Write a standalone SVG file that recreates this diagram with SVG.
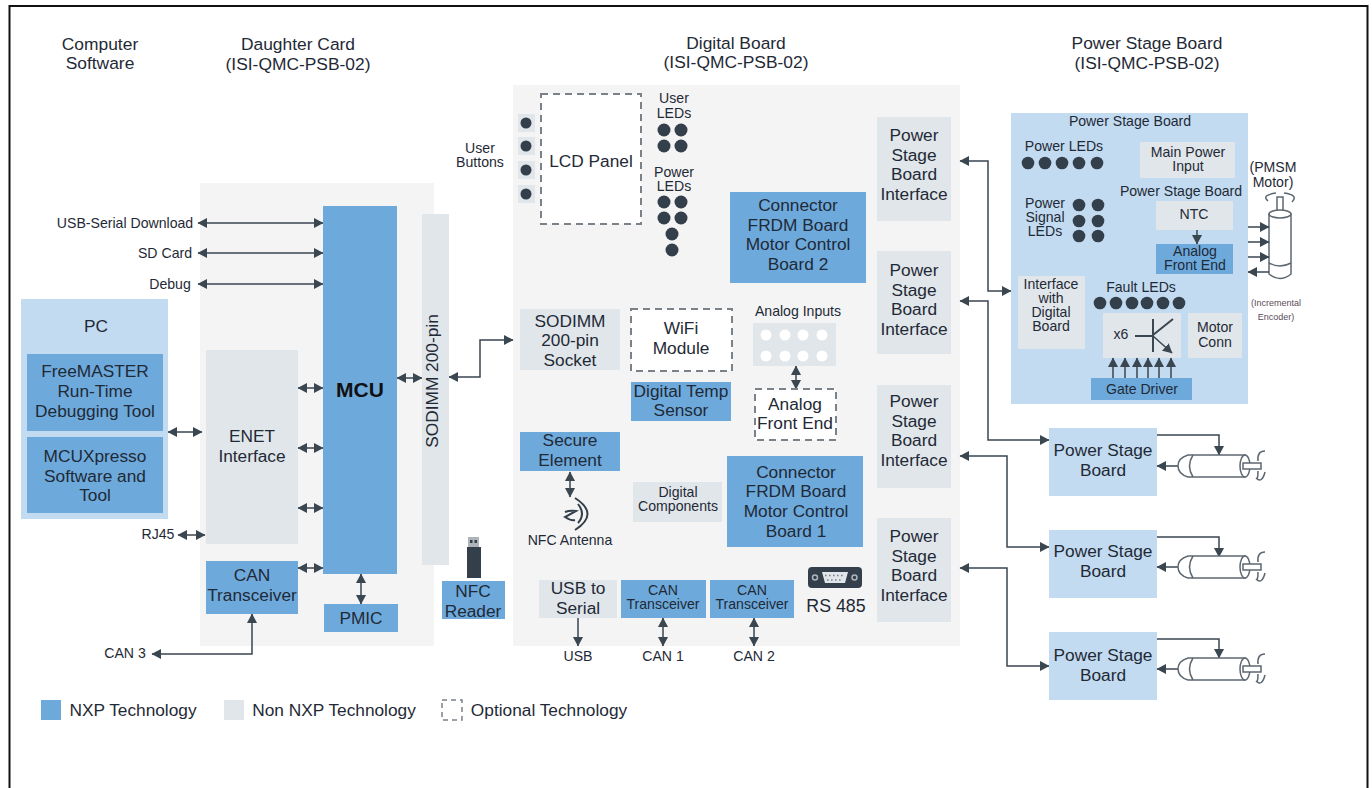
<svg xmlns="http://www.w3.org/2000/svg" width="1372" height="788" viewBox="0 0 1372 788">
<defs>
<marker id="a" markerUnits="userSpaceOnUse" markerWidth="10" markerHeight="10" refX="9" refY="5" orient="auto-start-reverse"><path d="M0 0L9.500 5L0 10Z" fill="#3a4650"/></marker>
<g id="motor">
<path class="m" d="M1188 455Q1178 458 1178 466Q1178 474 1188 477H1245V455Z"/>
<path class="g" d="M1193 455Q1186 466 1193 477"/>
<ellipse class="m" cx="1245" cy="466" rx="5" ry="11"/>
<rect class="m" x="1243" y="463" width="18" height="6"/>
<path class="g" d="M1265 451Q1257 451 1258 461"/>
<path class="g" d="M1258 471Q1258 480 1256 478Q1262 484 1265 472"/>
</g>
</defs>
<style>
text{font-family:"Liberation Sans",Arial,sans-serif;fill:#1f2a36;text-anchor:middle}
.nxp{fill:#6ea9dc}.non{fill:#e1e6ea}.lb{fill:#c3dbf0}.bg{fill:#f4f4f4}
.opt{fill:#fff;stroke:#7a8188;stroke-width:2;stroke-dasharray:7 5}
.c{fill:none;stroke:#3a4650;stroke-width:1.500;marker-end:url(#a)}
.d{fill:none;stroke:#3a4650;stroke-width:1.500;marker-start:url(#a);marker-end:url(#a)}
.l{fill:none;stroke:#3a4650;stroke-width:2}
.g{fill:none;stroke:#5d6770;stroke-width:1.500}
.dot{fill:#333f4a}
.m{fill:#fff;stroke:#5d6770;stroke-width:1.500}
.t16{font-size:17.400px}.t17{font-size:17.300px}.t14{font-size:14.100px}
</style>
<rect id="frame" x="9.500" y="6" width="1358" height="800" fill="#fff" stroke="#111" stroke-width="2"/>

<g id="backgrounds">
<rect class="bg" x="200" y="183" width="234" height="463"/>
<rect class="bg" x="513" y="85" width="447" height="561"/>
</g>

<g id="titles">
<text class="t16" x="100" y="50">Computer</text><text class="t16" x="100" y="69">Software</text>
<text class="t16" x="298" y="50">Daughter Card</text><text class="t16" x="298" y="70">(ISI-QMC-PSB-02)</text>
<text class="t16" x="736" y="49">Digital Board</text><text class="t16" x="736" y="68">(ISI-QMC-PSB-02)</text>
<text class="t16" x="1147" y="49">Power Stage Board</text><text class="t16" x="1147" y="69">(ISI-QMC-PSB-02)</text>
</g>

<g id="connectors">
<path class="d" d="M198 223H323"/>
<path class="d" d="M198 253H323"/>
<path class="d" d="M198 284H323"/>
<path class="d" d="M298 388H323"/>
<path class="d" d="M298 448H323"/>
<path class="d" d="M298 508H323"/>
<path class="d" d="M298 568H323"/>
<path class="d" d="M397 378H422"/>
<path class="d" d="M361 574V604"/>
<path class="d" d="M168 432H202"/>
<path class="d" d="M178 535H205"/>
<path class="d" d="M152 654H252V614"/>
<path class="d" d="M449 377H480V340H513"/>
<path class="d" d="M796 366V389"/>
<path class="d" d="M570 472V497"/>
<path class="c" d="M578 618V646"/>
<path class="d" d="M663 618V646"/>
<path class="d" d="M754 618V646"/>
<path class="d" d="M960 161H988V291H1011"/>
<path class="d" d="M960 301H988V440H1049"/>
<path class="d" d="M960 456H1007V547H1049"/>
<path class="d" d="M960 568H1007V666H1049"/>
</g>

<g id="pc"><rect class="lb" x="21" y="299" width="147" height="220"/><text class="t17" x="96" y="332">PC</text></g>
<g id="freemaster"><rect class="nxp" x="27" y="354" width="136" height="77"/><text class="t17" x="95" y="377">FreeMASTER</text><text class="t17" x="95" y="397">Run-Time</text><text class="t17" x="95" y="417">Debugging Tool</text></g>
<g id="mcuxpresso"><rect class="nxp" x="27" y="437" width="136" height="76"/><text class="t17" x="95" y="462">MCUXpresso</text><text class="t17" x="95" y="482">Software and</text><text class="t17" x="95" y="501">Tool</text></g>

<g id="side-labels">
<text class="t14" x="125" y="228">USB-Serial Download</text>
<text class="t14" x="165" y="258">SD Card</text>
<text class="t14" x="170" y="289">Debug</text>
<text class="t14" x="158" y="539">RJ45</text>
<text class="t14" x="125" y="658">CAN 3</text>
</g>

<g id="enet"><rect class="non" x="206" y="350" width="92" height="194"/><text class="t17" x="252" y="442">ENET</text><text class="t17" x="252" y="462">Interface</text></g>
<g id="mcu"><rect class="nxp" x="323" y="206" width="74" height="368"/><text x="360" y="397" font-size="21" font-weight="700" style="fill:#111">MCU</text></g>
<g id="sodimm-pin"><rect class="non" x="422" y="214" width="27" height="351"/><text class="t17" transform="translate(438 381) rotate(-90)">SODIMM 200-pin</text></g>
<g id="can-t3"><rect class="nxp" x="206" y="561" width="92" height="53"/><text class="t17" x="252" y="581">CAN</text><text class="t17" x="252" y="601">Transceiver</text></g>
<g id="pmic"><rect class="nxp" x="324" y="604" width="74" height="28"/><text class="t17" x="361" y="624">PMIC</text></g>
<g id="nfc-reader">
<rect x="468" y="537" width="11" height="10" fill="#aeb4b9"/><rect x="470" y="540" width="2.500" height="3" fill="#333f4a"/><rect x="474.500" y="540" width="2.500" height="3" fill="#333f4a"/>
<rect x="467" y="547" width="14" height="31" fill="#333f4a"/>
<rect x="442" y="581" width="63" height="38" class="nxp"/><text class="t17" x="473" y="597">NFC</text><text class="t17" x="473" y="617">Reader</text></g>

<g id="user-buttons">
<text class="t14" x="480" y="153">User</text><text class="t14" x="480" y="167">Buttons</text>
<rect class="non" x="518" y="114" width="17" height="18"/><rect class="non" x="518" y="137" width="17" height="18"/><rect class="non" x="518" y="161" width="17" height="18"/><rect class="non" x="518" y="185" width="17" height="18"/>
<circle class="dot" cx="526" cy="123" r="5.500"/><circle class="dot" cx="526" cy="146" r="5.500"/><circle class="dot" cx="526" cy="170" r="5.500"/><circle class="dot" cx="526" cy="194" r="5.500"/>
</g>
<g id="lcd"><rect class="opt" x="541" y="94" width="100" height="130"/><text class="t17" x="591" y="167">LCD Panel</text></g>
<g id="user-leds"><text class="t14" x="674" y="103">User</text><text class="t14" x="674" y="118">LEDs</text>
<circle class="dot" cx="664" cy="130" r="6.500"/><circle class="dot" cx="681" cy="130" r="6.500"/><circle class="dot" cx="664" cy="146" r="6.500"/><circle class="dot" cx="681" cy="146" r="6.500"/></g>
<g id="power-leds"><text class="t14" x="674" y="177">Power</text><text class="t14" x="674" y="191">LEDs</text>
<circle class="dot" cx="664" cy="202" r="6.500"/><circle class="dot" cx="681" cy="202" r="6.500"/><circle class="dot" cx="664" cy="218" r="6.500"/><circle class="dot" cx="681" cy="218" r="6.500"/><circle class="dot" cx="672" cy="234" r="6.500"/><circle class="dot" cx="672" cy="250" r="6.500"/></g>
<g id="conn2"><rect class="nxp" x="730" y="192" width="136" height="91"/><text class="t17" x="798" y="211">Connector</text><text class="t17" x="798" y="231">FRDM Board</text><text class="t17" x="798" y="250">Motor Control</text><text class="t17" x="798" y="270">Board 2</text></g>
<g id="sodimm-socket"><rect class="non" x="520" y="309" width="100" height="61"/><text class="t17" x="570" y="327">SODIMM</text><text class="t17" x="570" y="346">200-pin</text><text class="t17" x="570" y="366">Socket</text></g>
<g id="wifi"><rect class="opt" x="631" y="309" width="101" height="62"/><text class="t17" x="681" y="334">WiFi</text><text class="t17" x="681" y="354">Module</text></g>
<g id="digital-temp"><rect class="nxp" x="631" y="382" width="100" height="39"/><text class="t17" x="681" y="397">Digital Temp</text><text class="t17" x="681" y="416">Sensor</text></g>
<g id="analog-inputs"><text class="t14" x="798" y="316">Analog Inputs</text><rect class="non" x="753" y="323" width="83" height="43"/>
<circle cx="766" cy="335" r="5.500" fill="#fff"/><circle cx="785" cy="335" r="5.500" fill="#fff"/><circle cx="803" cy="335" r="5.500" fill="#fff"/><circle cx="822" cy="335" r="5.500" fill="#fff"/>
<circle cx="766" cy="356" r="5.500" fill="#fff"/><circle cx="785" cy="356" r="5.500" fill="#fff"/><circle cx="803" cy="356" r="5.500" fill="#fff"/><circle cx="822" cy="356" r="5.500" fill="#fff"/></g>
<g id="afe"><rect class="opt" x="755" y="389" width="81" height="51"/><text class="t17" x="795" y="410">Analog</text><text class="t17" x="795" y="429">Front End</text></g>
<g id="secure"><rect class="nxp" x="520" y="432" width="100" height="39"/><text class="t17" x="570" y="446">Secure</text><text class="t17" x="570" y="466">Element</text></g>
<g id="nfc-antenna">
<path d="M565 512Q570 510 576 511L565 517Q571 521 575 520M578 504Q586 514 578 523M575 498Q600 514 575 530" fill="none" stroke="#333f4a" stroke-width="2"/>
<text class="t14" x="570" y="545">NFC Antenna</text></g>
<g id="digital-components"><rect class="non" x="633" y="482" width="89" height="40"/><text class="t14" x="678" y="497">Digital</text><text class="t14" x="678" y="511">Components</text></g>
<g id="conn1"><rect class="nxp" x="727" y="456" width="136" height="91"/><text class="t17" x="796" y="478">Connector</text><text class="t17" x="796" y="497">FRDM Board</text><text class="t17" x="796" y="517">Motor Control</text><text class="t17" x="796" y="537">Board 1</text></g>
<g id="usb-serial"><rect class="non" x="539" y="580" width="78" height="38"/><text class="t17" x="578" y="594">USB to</text><text class="t17" x="578" y="614">Serial</text></g>
<g id="can1"><rect class="nxp" x="621" y="580" width="85" height="38"/><text class="t14" x="663" y="595">CAN</text><text class="t14" x="663" y="609">Transceiver</text></g>
<g id="can2"><rect class="nxp" x="710" y="580" width="84" height="38"/><text class="t14" x="752" y="595">CAN</text><text class="t14" x="752" y="609">Transceiver</text></g>
<g id="rs485">
<rect x="808" y="567" width="54" height="21" rx="4" fill="#333f4a"/><path d="M822 572H848L845 583H825Z" fill="#e1e6ea"/>
<circle cx="815" cy="577.500" r="2.500" fill="#333f4a" stroke="#aeb4b9" stroke-width="1.500"/><circle cx="854.500" cy="577.500" r="2.500" fill="#333f4a" stroke="#aeb4b9" stroke-width="1.500"/>
<path d="M825 575.500H845M827 580H843" stroke="#7a8188" stroke-width="1.600" stroke-dasharray="1.600 2.400" fill="none"/>
<text x="836" y="612" font-size="17.800">RS 485</text></g>
<g id="bottom-labels"><text class="t14" x="578" y="661">USB</text><text class="t14" x="663" y="661">CAN 1</text><text class="t14" x="754" y="661">CAN 2</text></g>

<g id="psi1"><rect class="non" x="877" y="117" width="74" height="104"/><text class="t17" x="914" y="141">Power</text><text class="t17" x="914" y="161">Stage</text><text class="t17" x="914" y="180">Board</text><text class="t17" x="914" y="200">Interface</text></g>
<g id="psi2"><rect class="non" x="877" y="251" width="74" height="103"/><text class="t17" x="914" y="276">Power</text><text class="t17" x="914" y="296">Stage</text><text class="t17" x="914" y="315">Board</text><text class="t17" x="914" y="335">Interface</text></g>
<g id="psi3"><rect class="non" x="877" y="385" width="74" height="103"/><text class="t17" x="914" y="407">Power</text><text class="t17" x="914" y="427">Stage</text><text class="t17" x="914" y="446">Board</text><text class="t17" x="914" y="466">Interface</text></g>
<g id="psi4"><rect class="non" x="877" y="518" width="74" height="104"/><text class="t17" x="914" y="542">Power</text><text class="t17" x="914" y="562">Stage</text><text class="t17" x="914" y="581">Board</text><text class="t17" x="914" y="601">Interface</text></g>

<g id="psb-main">
<rect class="lb" x="1011" y="113" width="237" height="291"/>
<text class="t14" x="1130" y="126">Power Stage Board</text>
<text class="t14" x="1064" y="151">Power LEDs</text>
<circle class="dot" cx="1028" cy="163" r="6.300"/><circle class="dot" cx="1045" cy="163" r="6.300"/><circle class="dot" cx="1062" cy="163" r="6.300"/><circle class="dot" cx="1079" cy="163" r="6.300"/><circle class="dot" cx="1097" cy="163" r="6.300"/>
<text class="t14" x="1045" y="208">Power</text><text class="t14" x="1045" y="222">Signal</text><text class="t14" x="1045" y="236">LEDs</text>
<circle class="dot" cx="1079" cy="205" r="6.300"/><circle class="dot" cx="1098" cy="205" r="6.300"/><circle class="dot" cx="1079" cy="221" r="6.300"/><circle class="dot" cx="1098" cy="221" r="6.300"/><circle class="dot" cx="1079" cy="236" r="6.300"/><circle class="dot" cx="1098" cy="236" r="6.300"/>
<rect class="non" x="1140" y="142" width="95" height="36"/><text class="t14" x="1188" y="157">Main Power</text><text class="t14" x="1188" y="171">Input</text>
<text class="t14" x="1181" y="196">Power Stage Board</text>
<rect class="non" x="1156" y="201" width="77" height="29"/><text class="t14" x="1194" y="219">NTC</text>
<path class="c" d="M1197 230V244"/>
<rect class="nxp" x="1156" y="244" width="77" height="30"/><text class="t14" x="1195" y="256">Analog</text><text class="t14" x="1195" y="270">Front End</text>
<rect class="non" x="1018" y="276" width="67" height="73"/><text class="t14" x="1051" y="289">Interface</text><text class="t14" x="1051" y="303">with</text><text class="t14" x="1051" y="317">Digital</text><text class="t14" x="1051" y="331">Board</text>
<text class="t14" x="1141" y="292">Fault LEDs</text>
<circle class="dot" cx="1100" cy="303" r="6.300"/><circle class="dot" cx="1116" cy="303" r="6.300"/><circle class="dot" cx="1132" cy="303" r="6.300"/><circle class="dot" cx="1147" cy="303" r="6.300"/><circle class="dot" cx="1163" cy="303" r="6.300"/><circle class="dot" cx="1179" cy="303" r="6.300"/>
<rect class="non" x="1103" y="313" width="78" height="45"/><text class="t14" x="1121" y="339">x6</text>
<path class="l" d="M1135 336H1153M1153 319V352M1153 335L1173 319"/><path class="c" d="M1153 336L1172 353"/>
<rect class="non" x="1188" y="313" width="54" height="45"/><text class="t14" x="1215" y="332">Motor</text><text class="t14" x="1215" y="347">Conn</text>
<path class="c" d="M1113 378V358"/><path class="c" d="M1125 378V358"/><path class="c" d="M1137 378V358"/><path class="c" d="M1148 378V358"/><path class="c" d="M1159 378V358"/><path class="c" d="M1171 378V358"/>
<rect class="nxp" x="1091" y="378" width="101" height="22"/><text class="t14" x="1142" y="394">Gate Driver</text>
</g>

<g id="pmsm-motor">
<text class="t14" x="1273" y="172">(PMSM</text><text class="t14" x="1273" y="187">Motor)</text>
<path class="g" d="M1276 193Q1261 195 1268 201M1284 193Q1299 195 1292 202"/>
<rect x="1277" y="197" width="6" height="14" class="m"/>
<path d="M1269 214V274Q1280 283 1291 274V214Z" class="m"/><ellipse cx="1280" cy="214" rx="11" ry="4" class="m"/><path class="g" d="M1269 263Q1280 269 1291 263"/>
<path class="c" d="M1248 227H1269"/><path class="c" d="M1248 242H1269"/><path class="c" d="M1248 257H1269"/><path class="c" d="M1269 272H1248"/>
<text x="1276" y="306" font-size="9" style="fill:#5b4b5a">(Incremental</text><text x="1276" y="320" font-size="9" style="fill:#5b4b5a">Encoder)</text>
</g>

<g id="psb1"><rect class="lb" x="1049" y="428" width="108" height="68"/><text class="t17" x="1103" y="456">Power Stage</text><text class="t17" x="1103" y="476">Board</text></g>
<g id="motor1"><path class="c" d="M1157 435H1219V455"/><path class="c" d="M1178 466H1157"/><use href="#motor"/></g>
<g id="psb2"><rect class="lb" x="1049" y="530" width="108" height="68"/><text class="t17" x="1103" y="557">Power Stage</text><text class="t17" x="1103" y="577">Board</text></g>
<g id="motor2"><path class="c" d="M1157 537H1219V557"/><path class="c" d="M1178 567H1157"/><use href="#motor" y="101"/></g>
<g id="psb3"><rect class="lb" x="1049" y="632" width="108" height="68"/><text class="t17" x="1103" y="661">Power Stage</text><text class="t17" x="1103" y="681">Board</text></g>
<g id="motor3"><path class="c" d="M1157 639H1219V658"/><path class="c" d="M1178 669H1157"/><use href="#motor" y="203"/></g>

<g id="legend">
<rect class="nxp" x="41" y="700" width="20" height="20"/><text class="t17" x="133" y="716">NXP Technology</text>
<rect class="non" x="224" y="700" width="20" height="20"/><text class="t17" x="334" y="716">Non NXP Technology</text>
<rect x="442" y="700" width="20" height="20" fill="#fff" stroke="#7a8188" stroke-width="1.500" stroke-dasharray="5 4"/><text class="t17" x="549" y="716">Optional Technology</text>
</g>
</svg>
